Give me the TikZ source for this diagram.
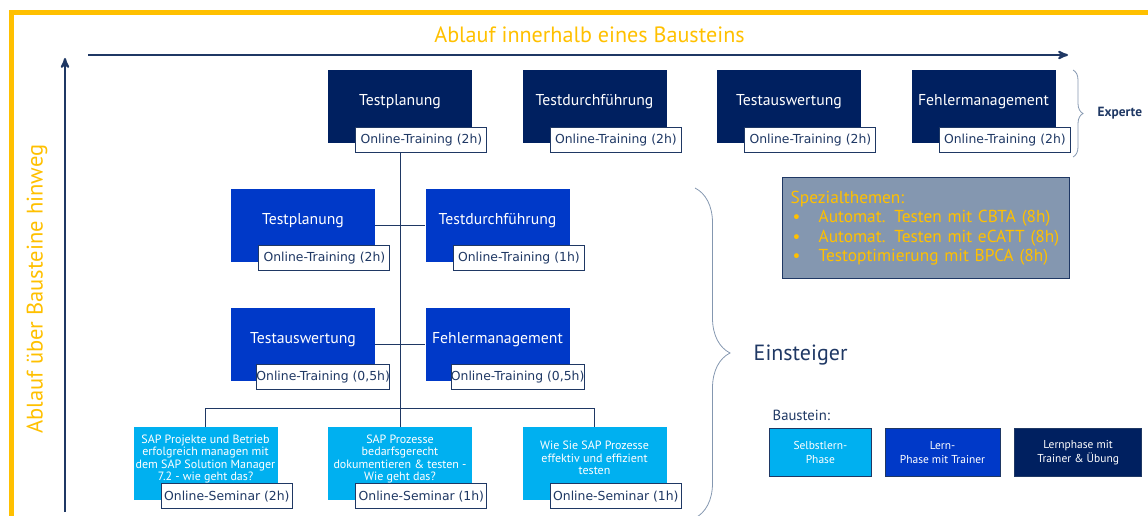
\documentclass[tikz,border=0pt]{standalone}
\usepackage{fontspec}
\setmainfont{PT Sans}
\newfontfamily\tagfont{DejaVu Sans}
\usepackage{tikz}
\usetikzlibrary{arrows,shapes,positioning,decorations.pathreplacing}

\definecolor{navy}{RGB}{0,32,96}
\definecolor{midblue}{RGB}{0,57,200}
\definecolor{lightblue}{RGB}{0,176,240}
\definecolor{linenavy}{RGB}{31,56,100}
\definecolor{gold}{RGB}{255,192,0}
\definecolor{slate}{RGB}{132,151,176}

% text of a seminar box, set a little above the middle
\newcommand{\semtext}[1]{\raisebox{3pt}[\height][\depth]{\begin{tabular}{@{}c@{}}#1\end{tabular}}}

\begin{document}
\begin{tikzpicture}[x=0.75pt,y=-0.75pt,node distance=145.875pt,>=stealth']
    \tikzstyle{block}=[rectangle,minimum width=108pt,minimum height=54.75pt,inner sep=0pt,text=white,font=\fontsize{11.8}{14}\selectfont,text height=8.5pt,text depth=9.5pt]
    \tikzstyle{seminar}=[rectangle,minimum width=108pt,minimum height=54.75pt,inner sep=0pt,text=white,fill=lightblue,font=\fontsize{9}{9}\selectfont]
    \tikzstyle{tag}=[rectangle,draw=linenavy,line width=0.6pt,fill=white,text=linenavy,minimum width=98.25pt,minimum height=18.75pt,inner sep=0pt,font=\tagfont\fontsize{9.3}{11}\selectfont]
    \tikzstyle{conn}=[draw=linenavy,line width=0.75pt]
    \tikzstyle{axis}=[draw=linenavy,line width=1.5pt,->]
    \tikzstyle{brace}=[draw=slate,line width=0.6pt,decorate]
    \tikzstyle{legend}=[rectangle,draw=linenavy,line width=0.5pt,text=white,align=center,minimum height=36pt,inner sep=0pt,font=\fontsize{8.6}{10.5}\selectfont]

    \useasboundingbox (0,0) rectangle (1148,516);

    % frame and axes
    \draw[draw=gold,line width=3.75pt] (11.5,516) -- (11.5,12.5) -- (1148,12.5);
    \coordinate (xa) at (88,55);
    \coordinate (xb) at (1068,55);
    \coordinate (ya) at (65,512);
    \coordinate (yb) at (65,58);
    \draw[axis] (xa) -- (xb);
    \draw[axis] (ya) -- (yb);
    \node[text=gold,font=\fontsize{16.6}{19}\selectfont] (xtitle) at (589.5,35) {Ablauf innerhalb eines Bausteins};
    \node[text=gold,font=\fontsize{16.9}{19}\selectfont,rotate=90] (ytitle) at (37,289) {Ablauf über Bausteine hinweg};

    % Experte
    \node[block,fill=navy] (tp1) at (400,106.5) {Testplanung};
    \node[block,fill=navy,right of=tp1] (tp2) {Testdurchführung};
    \node[block,fill=navy,right of=tp2] (tp3) {Testauswertung};
    \node[block,fill=navy,right of=tp3] (tp4) {Fehlermanagement};
    \node[tag,anchor=south east] (tp1t) at ([shift={(15,10)}]tp1.south east) {Online-Training (2h)};
    \node[tag,anchor=south east] (tp2t) at ([shift={(15,10)}]tp2.south east) {Online-Training (2h)};
    \node[tag,anchor=south east] (tp3t) at ([shift={(15,10)}]tp3.south east) {Online-Training (2h)};
    \node[tag,anchor=south east] (tp4t) at ([shift={(15,10)}]tp4.south east) {Online-Training (2h)};

    % Einsteiger
    \node[block,fill=midblue] (m1) at (303,225.5) {Testplanung};
    \node[block,fill=midblue,right of=m1] (m2) {Testdurchführung};
    \node[block,fill=midblue,below of=m1,node distance=89.25pt] (m3) {Testauswertung};
    \node[block,fill=midblue,right of=m3] (m4) {Fehlermanagement};
    \node[tag,anchor=south east] (m1t) at ([shift={(15,9)}]m1.south east) {Online-Training (2h)};
    \node[tag,anchor=south east] (m2t) at ([shift={(15,9)}]m2.south east) {Online-Training (1h)};
    \node[tag,anchor=south east] (m3t) at ([shift={(15,9)}]m3.south east) {Online-Training (0,5h)};
    \node[tag,anchor=south east] (m4t) at ([shift={(15,9)}]m4.south east) {Online-Training (0,5h)};

    \node[seminar] (s1) at (205.5,463.5) {\semtext{SAP Projekte und Betrieb\\erfolgreich managen mit\\dem SAP Solution Manager\\7.2 - wie geht das?}};
    \node[seminar,right of=s1] (s2) {\semtext{SAP Prozesse\\bedarfsgerecht\\dokumentieren \& testen -\\Wie geht das?}};
    \node[seminar,right of=s2] (s3) {\semtext{Wie Sie SAP Prozesse\\effektiv und effizient\\testen}};
    \node[tag,anchor=south east] (s1t) at ([shift={(15,9)}]s1.south east) {Online-Seminar (2h)};
    \node[tag,anchor=south east] (s2t) at ([shift={(15,9)}]s2.south east) {Online-Seminar (1h)};
    \node[tag,anchor=south east] (s3t) at ([shift={(15,9)}]s3.south east) {Online-Seminar (1h)};

    % connectors
    \draw[conn] (m1.east) -- (m2.west);
    \draw[conn] (m3.east) -- (m4.west);
    \draw[conn] (tp1t.south -| tp1.center) -- (s2.north);
    \draw[conn] (s1.north) -- ++(0,-18) -| (s3.north);

    % braces
    \draw[brace,decoration={brace,amplitude=7.5pt}] (1073,70) -- (1073,157);
    \node[text=linenavy,font=\bfseries\fontsize{10}{12}\selectfont,anchor=west] (experte) at (1093,113.5) {Experte};
    \draw[brace,decoration={brace,amplitude=26.25pt}] (695,188) -- (695,518);
    \node[text=linenavy,font=\fontsize{16.5}{19}\selectfont,anchor=west] (einst) at (749,355) {Einsteiger};

    % Spezialthemen
    \node[rectangle,draw=linenavy,line width=1pt,fill=slate,text=gold,anchor=north west,minimum width=215.25pt,minimum height=75.75pt,text width=203.25pt,inner xsep=6pt,inner ysep=2pt,align=left,font=\fontsize{13}{14.6}\selectfont] (spez) at (782,177) {Spezialthemen:\\
        \makebox[21pt][l]{\hspace{1.5pt}\textbullet}Automat. Testen mit CBTA (8h)\\
        \makebox[21pt][l]{\hspace{1.5pt}\textbullet}Automat. Testen mit eCATT (8h)\\
        \makebox[21pt][l]{\hspace{1.5pt}\textbullet}Testoptimierung mit BPCA (8h)};

    % legend
    \node[text=linenavy,font=\fontsize{11}{13}\selectfont,anchor=west] (baustein) at (768,415) {Baustein:};
    \node[legend,fill=lightblue,minimum width=76.5pt,anchor=north west] (sel) at (769,428) {Selbstlern-\\Phase};
    \node[legend,fill=midblue,minimum width=86.25pt,right=9.75pt of sel] (lern) {Lern-\\Phase mit Trainer};
    \node[legend,fill=navy,minimum width=95.25pt,right=10.5pt of lern] (uebung) {Lernphase mit\\Trainer \& Übung};
\end{tikzpicture}
\end{document}
